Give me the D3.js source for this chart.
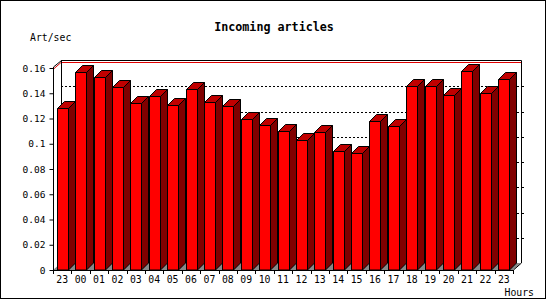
<!DOCTYPE html>
<html>
<head>
<meta charset="utf-8">
<script src="https://cdn.jsdelivr.net/npm/d3@7.9.0/dist/d3.min.js"></script>
<style>
  body { margin: 0; background: #fff; }
  svg { display: block; }
  text { font-family: "DejaVu Sans Mono", monospace; fill: #000; }
</style>
</head>
<body>
<svg width="550" height="300"></svg>
<script>
const hours = ['23', '00', '01', '02', '03', '04', '05', '06', '07', '08', '09', '10',
    '11', '12', '13', '14', '15', '16', '17', '18', '19', '20', '21', '22', '23'];
const artPerSec = [0.128, 0.157, 0.153, 0.145, 0.132, 0.138, 0.131, 0.143, 0.133, 0.130,
    0.120, 0.115, 0.110, 0.103, 0.109, 0.0945, 0.093, 0.118, 0.114, 0.1455,
    0.1455, 0.139, 0.158, 0.140, 0.151];
const yTicks = [0, 0.02, 0.04, 0.06, 0.08, 0.1, 0.12, 0.14, 0.16];

const svg = d3.select('svg');

// frame
svg.append('rect')
    .attr('x', 0.5).attr('y', 0.5)
    .attr('width', 545).attr('height', 298)
    .attr('fill', '#fff').attr('stroke', '#000');

// plot geometry
const left = 53, right = 513, bottom = 270;
const depthX = 8, depthY = 7;     // depth of the back wall
const barDX = 7, barDY = 7;       // depth of each bar

// keep the categories unique for the band scale (23 appears twice)
const x = d3.scaleBand()
    .domain(hours.map((h, i) => i))
    .range([left, right]);
const y = d3.scaleLinear().domain([0, 0.16]).range([bottom, 68]);

const yTop = y(0.16) - 1;

// floor
svg.append('path')
    .attr('d', `M${left},${bottom}L${right},${bottom}L${right + depthX},${bottom - depthY}L${left + depthX},${bottom - depthY}Z`)
    .attr('fill', '#888');

// back wall
svg.append('rect')
    .attr('x', left + depthX).attr('y', yTop - depthY)
    .attr('width', right - left).attr('height', bottom - yTop)
    .attr('fill', '#fff');

// grid on back wall
svg.append('g')
    .selectAll('line')
    .data(yTicks.filter(d => d > 0 && d < 0.16))
    .join('line')
    .attr('x1', left + depthX).attr('x2', right + depthX)
    .attr('y1', d => Math.round(y(d) - depthY) + 0.5)
    .attr('y2', d => Math.round(y(d) - depthY) + 0.5)
    .attr('stroke', '#000')
    .attr('stroke-dasharray', '2,2');

// red line near the top
const redY = y(0.16) + 1.5;
svg.append('path')
    .attr('d', `M${left},${redY}L${left + depthX},${redY - depthY}L${right + depthX},${redY - depthY}`)
    .attr('fill', 'none')
    .attr('stroke', '#e00000');

// wall outline
svg.append('path')
    .attr('d', `M${left + 0.5},${yTop}L${left + depthX + 0.5},${yTop - depthY + 0.5}` +
        `L${right + depthX + 0.5},${yTop - depthY + 0.5}L${right + depthX + 0.5},${bottom - depthY}` +
        `L${right + 0.5},${bottom}`)
    .attr('fill', 'none')
    .attr('stroke', '#000');
svg.append('line')
    .attr('x1', left + depthX + 0.5).attr('x2', left + depthX + 0.5)
    .attr('y1', yTop - depthY).attr('y2', bottom - depthY)
    .attr('stroke', '#000');

// ticks on the right edge of the wall
svg.append('g')
    .selectAll('line')
    .data(yTicks.filter(d => d > 0 && d < 0.16))
    .join('line')
    .attr('x1', right + depthX).attr('x2', right + depthX + 3)
    .attr('y1', d => Math.round(y(d) - depthY) + 0.5)
    .attr('y2', d => Math.round(y(d) - depthY) + 0.5)
    .attr('stroke', '#000');

// bars
const barOffset = 3.7, barW = 11;
const bars = svg.append('g')
    .attr('stroke', '#000')
    .attr('stroke-linejoin', 'round');

artPerSec.forEach((v, i) => {
    const x0 = Math.round(x(i) + barOffset) + 0.5;
    const x1 = x0 + barW;
    const yv = Math.round(y(v)) + 0.5;
    // side
    bars.append('path')
        .attr('d', `M${x1},${yv}L${x1 + barDX},${yv - barDY}L${x1 + barDX},${bottom - barDY}L${x1},${bottom}Z`)
        .attr('fill', '#800000');
    // top
    bars.append('path')
        .attr('d', `M${x0},${yv}L${x0 + barDX},${yv - barDY}L${x1 + barDX},${yv - barDY}L${x1},${yv}Z`)
        .attr('fill', '#c00000');
    // front
    bars.append('rect')
        .attr('x', x0).attr('y', yv)
        .attr('width', barW).attr('height', bottom - yv)
        .attr('fill', '#ff0000');
});

// y axis (front)
const yAxis = svg.append('g')
    .attr('transform', `translate(${left + 0.5},0)`)
    .call(d3.axisLeft(y).tickValues(yTicks).tickSize(4).tickPadding(4)
        .tickFormat(d => d === 0 ? '0' : String(+d.toFixed(2))));
yAxis.select('.domain').remove();
yAxis.selectAll('line').attr('stroke', '#000');
yAxis.selectAll('text')
    .style('font-family', '"DejaVu Sans Mono", monospace')
    .style('font-size', '9.5px');
svg.append('line')
    .attr('x1', left + 0.5).attr('x2', left + 0.5)
    .attr('y1', yTop).attr('y2', bottom + 3)
    .attr('stroke', '#000');

// x axis
svg.append('line')
    .attr('x1', left).attr('x2', right + 0.5)
    .attr('y1', bottom + 0.5).attr('y2', bottom + 0.5)
    .attr('stroke', '#000');
svg.append('g')
    .selectAll('line')
    .data(d3.range(hours.length + 1))
    .join('line')
    .attr('x1', i => Math.round(left + i * x.bandwidth()) + 0.5)
    .attr('x2', i => Math.round(left + i * x.bandwidth()) + 0.5)
    .attr('y1', bottom).attr('y2', bottom + 4)
    .attr('stroke', '#000');

const xAxis = svg.append('g')
    .attr('transform', `translate(0,${bottom})`)
    .call(d3.axisBottom(x).tickSize(0).tickPadding(6).tickFormat(i => hours[i]));
xAxis.select('.domain').remove();
xAxis.selectAll('text')
    .style('font-family', '"DejaVu Sans Mono", monospace')
    .style('font-size', '9.8px');

// titles
svg.append('text')
    .attr('x', 274).attr('y', 31)
    .attr('text-anchor', 'middle')
    .style('font-size', '11.7px')
    .style('font-weight', 'bold')
    .text('Incoming articles');

svg.append('text')
    .attr('x', 30).attr('y', 41)
    .style('font-size', '9.8px')
    .text('Art/sec');

svg.append('text')
    .attr('x', 534).attr('y', 296)
    .attr('text-anchor', 'end')
    .style('font-size', '9.8px')
    .text('Hours');
</script>
</body>
</html>
